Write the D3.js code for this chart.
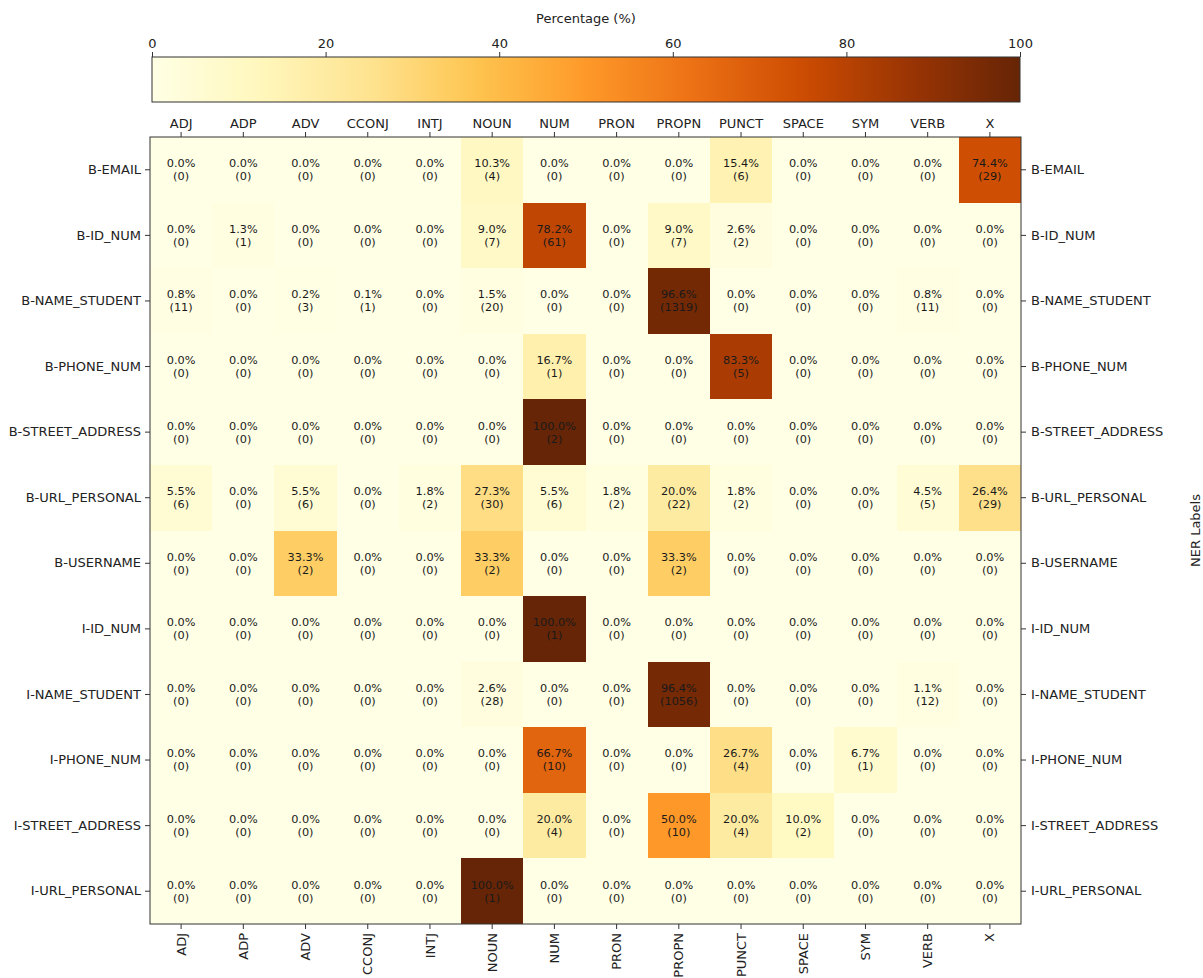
<!DOCTYPE html>
<html>
<head>
<meta charset="utf-8">
<script src="https://cdn.jsdelivr.net/npm/d3@7"></script>
<style>
  body { margin: 0; background: #fff; }
  svg { display: block; font-family: "DejaVu Sans", sans-serif; }
</style>
</head>
<body>
<svg id="chart" width="1203" height="978"></svg>
<script>
// ---- Data ----
const posTags = ["ADJ","ADP","ADV","CCONJ","INTJ","NOUN","NUM","PRON","PROPN","PUNCT","SPACE","SYM","VERB","X"];
const nerLabels = ["B-EMAIL","B-ID_NUM","B-NAME_STUDENT","B-PHONE_NUM","B-STREET_ADDRESS","B-URL_PERSONAL","B-USERNAME","I-ID_NUM","I-NAME_STUDENT","I-PHONE_NUM","I-STREET_ADDRESS","I-URL_PERSONAL"];

// counts per NER label, in posTags order
const countsBEmail         = [0,0,0,0,0,4,0,0,0,6,0,0,0,29];
const countsBIdNum         = [0,1,0,0,0,7,61,0,7,2,0,0,0,0];
const countsBNameStudent   = [11,0,3,1,0,20,0,0,1319,0,0,0,11,0];
const countsBPhoneNum      = [0,0,0,0,0,0,1,0,0,5,0,0,0,0];
const countsBStreetAddress = [0,0,0,0,0,0,2,0,0,0,0,0,0,0];
const countsBUrlPersonal   = [6,0,6,0,2,30,6,2,22,2,0,0,5,29];
const countsBUsername      = [0,0,2,0,0,2,0,0,2,0,0,0,0,0];
const countsIIdNum         = [0,0,0,0,0,0,1,0,0,0,0,0,0,0];
const countsINameStudent   = [0,0,0,0,0,28,0,0,1056,0,0,0,12,0];
const countsIPhoneNum      = [0,0,0,0,0,0,10,0,0,4,0,1,0,0];
const countsIStreetAddress = [0,0,0,0,0,0,4,0,10,4,2,0,0,0];
const countsIUrlPersonal   = [0,0,0,0,0,1,0,0,0,0,0,0,0,0];

const countRows = [countsBEmail,countsBIdNum,countsBNameStudent,countsBPhoneNum,countsBStreetAddress,
  countsBUrlPersonal,countsBUsername,countsIIdNum,countsINameStudent,countsIPhoneNum,countsIStreetAddress,countsIUrlPersonal];

const colorbarTicks = [0,20,40,60,80,100];

(function () {
// ---- Build cells ----
const cells = [];
countRows.forEach((row, ri) => {
  const total = d3.sum(row);
  row.forEach((c, ci) => {
    cells.push({ner: nerLabels[ri], pos: posTags[ci], count: c, pct: total ? c / total * 100 : 0});
  });
});

const svg = d3.select("#chart");
const mLeft = 150, mRight = 1021, mTop = 137, mBottom = 924;

const x = d3.scaleBand().domain(posTags).range([mLeft, mRight]).padding(0);
const y = d3.scaleBand().domain(nerLabels).range([mTop, mBottom]).padding(0);

// matplotlib-like YlOrBr: linear interpolation between the 9 ColorBrewer colors
const ylorbr = d3.schemeYlOrBr[9];
const color = d3.scaleLinear()
  .domain(d3.range(9).map(i => i * 100 / 8))
  .range(ylorbr)
  .interpolate(d3.interpolateRgb)
  .clamp(true);

// ---- Heatmap cells ----
svg.append("g").selectAll("rect").data(cells).join("rect")
  .attr("x", d => x(d.pos))
  .attr("y", d => y(d.ner))
  .attr("width", x.bandwidth())
  .attr("height", y.bandwidth())
  .attr("fill", d => color(d.pct))
  .attr("shape-rendering", "crispEdges");

// ---- Annotations ----
const ann = svg.append("g").attr("font-size", "11.3px").attr("fill", "#1a1a1a").attr("text-anchor", "middle");
cells.forEach(d => {
  const cx = x(d.pos) + x.bandwidth() / 2;
  const cy = y(d.ner) + y.bandwidth() / 2;
  ann.append("text").attr("x", cx).attr("y", cy - 6.5).attr("dy", "0.35em").text(d.pct.toFixed(1) + "%");
  ann.append("text").attr("x", cx).attr("y", cy + 6.5).attr("dy", "0.35em").text("(" + d.count + ")");
});

// ---- Axes ----
const axisStyle = g => {
  g.select(".domain").remove();
  g.selectAll(".tick line").attr("stroke", "#333");
  g.selectAll(".tick text").attr("fill", "#222").attr("font-size", "13px").attr("font-family", "DejaVu Sans, sans-serif");
};

svg.append("g").attr("transform", `translate(0,${mTop})`)
  .call(d3.axisTop(x).tickSize(5).tickPadding(4))
  .call(axisStyle);

const xb = svg.append("g").attr("transform", `translate(0,${mBottom})`)
  .call(d3.axisBottom(x).tickSize(5).tickPadding(4))
  .call(axisStyle);
xb.selectAll(".tick text")
  .attr("transform", "rotate(-90)")
  .attr("text-anchor", "end")
  .attr("x", -9)
  .attr("y", 0)
  .attr("dy", "0.35em");

svg.append("g").attr("transform", `translate(${mLeft},0)`)
  .call(d3.axisLeft(y).tickSize(5).tickPadding(4))
  .call(axisStyle);

svg.append("g").attr("transform", `translate(${mRight},0)`)
  .call(d3.axisRight(y).tickSize(5).tickPadding(5))
  .call(axisStyle);

// Frame
svg.append("rect").attr("x", mLeft).attr("y", mTop).attr("width", mRight - mLeft).attr("height", mBottom - mTop)
  .attr("fill", "none").attr("stroke", "#333").attr("stroke-width", 1);

// Right axis title
svg.append("text")
  .attr("transform", `translate(1195,${(mTop + mBottom) / 2}) rotate(-90)`)
  .attr("text-anchor", "middle")
  .attr("dy", "0.35em")
  .attr("font-size", "13px").attr("fill", "#222")
  .text("NER Labels");

// ---- Colorbar ----
const cbLeft = 152, cbRight = 1020, cbTop = 57, cbBottom = 102;
const cbScale = d3.scaleLinear().domain([0, 100]).range([cbLeft, cbRight]);
const defs = svg.append("defs");
const grad = defs.append("linearGradient").attr("id", "cbgrad").attr("x1", "0%").attr("x2", "100%");
d3.range(0, 101, 2).forEach(v => {
  grad.append("stop").attr("offset", v + "%").attr("stop-color", color(v));
});
svg.append("rect").attr("x", cbLeft).attr("y", cbTop).attr("width", cbRight - cbLeft).attr("height", cbBottom - cbTop)
  .attr("fill", "url(#cbgrad)").attr("stroke", "#333").attr("stroke-width", 1);

svg.append("g").attr("transform", `translate(0,${cbTop})`)
  .call(d3.axisTop(cbScale).tickValues(colorbarTicks).tickSize(5).tickPadding(4).tickFormat(d3.format("d")))
  .call(axisStyle);

svg.append("text")
  .attr("x", (cbLeft + cbRight) / 2).attr("y", 18)
  .attr("text-anchor", "middle").attr("dy", "0.35em")
  .attr("font-size", "13px").attr("fill", "#222")
  .text("Percentage (%)");
})();
</script>
</body>
</html>
